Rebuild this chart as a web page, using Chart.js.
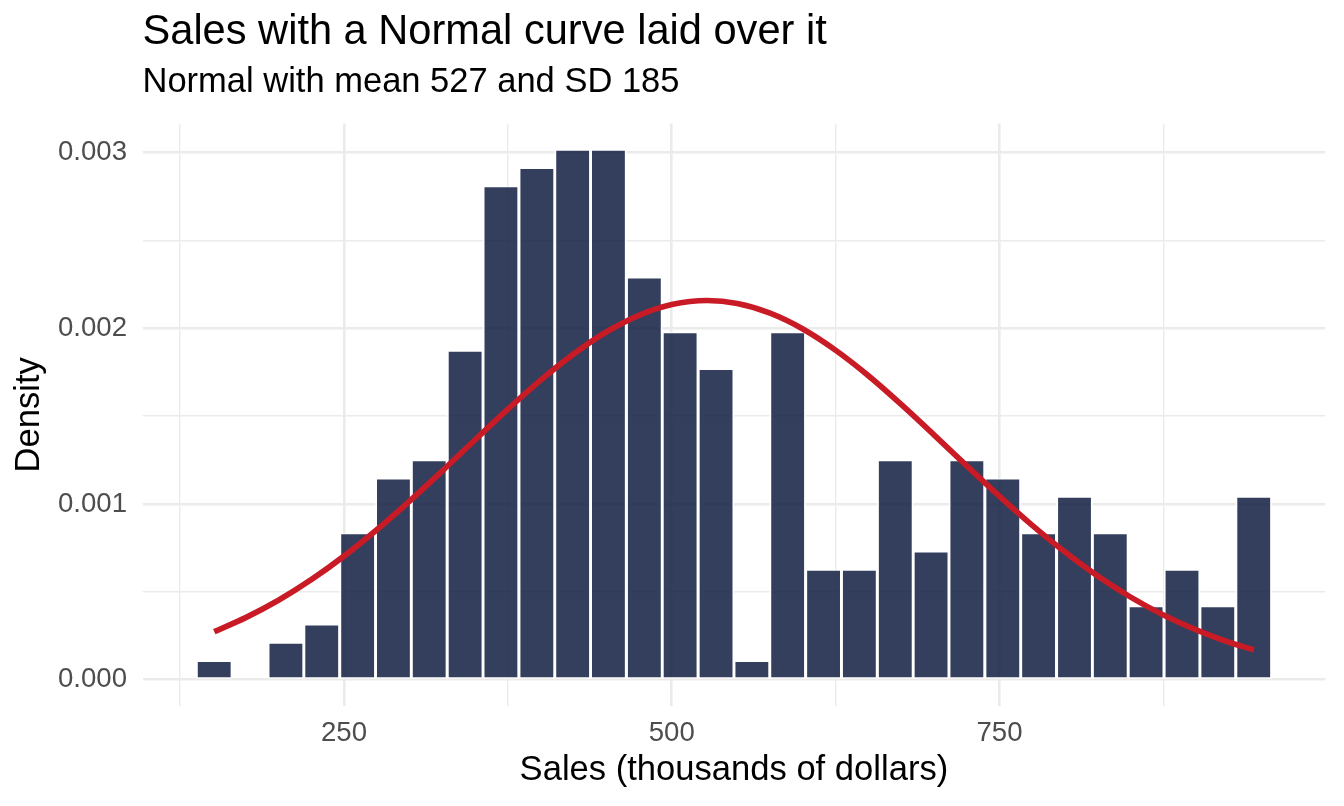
<!DOCTYPE html>
<html>
<head>
<meta charset="utf-8">
<script src="https://cdn.jsdelivr.net/npm/chart.js@4.4.1/dist/chart.umd.min.js"></script>
<style>
  html, body { margin: 0; padding: 0; background: #ffffff; }
  #wrap { width: 1344px; height: 806px; position: relative; }
</style>
</head>
<body>
<div id="wrap"><canvas id="c"></canvas></div>
<script>
// ---- Data ----
const titleText = 'Sales with a Normal curve laid over it';
const subtitleText = 'Normal with mean 527 and SD 185';
const xAxisTitle = 'Sales (thousands of dollars)';
const yAxisTitle = 'Density';

// histogram bin centres (thousands of dollars) and densities
const binCenters = [151.0, 178.3, 205.7, 233.0, 260.4, 287.7, 315.0, 342.4, 369.7, 397.1,
                    424.4, 451.7, 479.1, 506.4, 533.8, 561.1, 588.4, 615.8, 643.1, 670.5,
                    697.8, 725.1, 752.5, 779.8, 807.2, 834.5, 861.8, 889.2, 916.5, 943.9];
const binDensity = [0.000104, 0, 0.000208, 0.000312, 0.000831, 0.001143, 0.001247, 0.001870, 0.002805, 0.002909,
                    0.003013, 0.003013, 0.002286, 0.001974, 0.001766, 0.000104, 0.001974, 0.000623, 0.000623, 0.001247,
                    0.000727, 0.001247, 0.001143, 0.000831, 0.001039, 0.000831, 0.000416, 0.000623, 0.000416, 0.001039];

// normal curve points
const curveX = [151, 175, 200, 225, 250, 275, 300, 325, 350, 375, 400, 425, 450, 475, 500, 527,
                550, 575, 600, 625, 650, 675, 700, 725, 750, 775, 800, 825, 850, 875, 900, 925, 944];
const curveY = [0.000273, 0.000353, 0.000452, 0.000569, 0.000703, 0.000853, 0.001016, 0.001188,
                0.001365, 0.001539, 0.001704, 0.001852, 0.001978, 0.002073, 0.002134, 0.002157,
                0.002140, 0.002085, 0.001995, 0.001874, 0.001729, 0.001566, 0.001393, 0.001216,
                0.001043, 0.000878, 0.000726, 0.000589, 0.000470, 0.000368, 0.000283, 0.000213, 0.000170];

// axis ticks
const xGridTicks = [125, 250, 375, 500, 625, 750, 875];
const xLabelTicks = [250, 500, 750];
const yGridTicks = [0, 0.0005, 0.001, 0.0015, 0.002, 0.0025, 0.003];
const yLabelTicks = [0, 0.001, 0.002, 0.003];

// ---- Chart ----
const FONT = "'Liberation Sans', Arial, Helvetica, sans-serif";
const GRID = '#EBEBEB';
const near = (v, list) => list.some(t => Math.abs(t - v) < 1e-9);

const barData = binCenters.map((x, i) => ({ x: x, y: binDensity[i] }));
const lineData = curveX.map((x, i) => ({ x: x, y: curveY[i] }));

new Chart(document.getElementById('c'), {
  data: {
    datasets: [
      {
        type: 'line',
        label: 'Normal curve',
        data: lineData,
        borderColor: '#C81B25',
        borderWidth: 5.7,
        pointRadius: 0,
        fill: false,
        cubicInterpolationMode: 'monotone',
        order: 0
      },
      {
        type: 'bar',
        label: 'Sales',
        data: barData,
        backgroundColor: 'rgba(15,29,63,0.85)',
        borderColor: '#ffffff',
        borderWidth: { top: 1, left: 1.8, right: 1.8, bottom: 1.6 },
        borderSkipped: false,
        barPercentage: 1,
        categoryPercentage: 1,
        order: 1
      }
    ]
  },
  options: {
    responsive: true,
    maintainAspectRatio: false,
    animation: false,
    events: [],
    layout: { padding: { left: 0, right: 18.7, top: 0, bottom: 0 } },
    plugins: {
      legend: { display: false },
      tooltip: { enabled: false },
      title: {
        display: true,
        text: titleText,
        align: 'start',
        fullSize: false,
        color: '#000000',
        font: { family: FONT, size: 41.6, weight: 'normal', lineHeight: 1.2 },
        padding: { top: 7.4, bottom: 4.2 }
      },
      subtitle: {
        display: true,
        text: subtitleText,
        align: 'start',
        fullSize: false,
        color: '#000000',
        font: { family: FONT, size: 34.5, weight: 'normal', lineHeight: 1.2 },
        padding: { top: 0, bottom: 20.6 }
      }
    },
    scales: {
      x: {
        type: 'linear',
        position: 'bottom',
        offset: false,
        min: 96.3,
        max: 998.5,
        afterBuildTicks: (s) => { s.ticks = xGridTicks.map(v => ({ value: v })); },
        afterFit: (s) => { s.height = 99.8; },
        border: { display: false },
        grid: {
          offset: false,
          color: GRID,
          drawTicks: false,
          lineWidth: (ctx) => (ctx.tick && near(ctx.tick.value, xLabelTicks)) ? 2.6 : 1.4
        },
        ticks: {
          autoSkip: false,
          maxRotation: 0,
          padding: 10.5,
          color: '#4D4D4D',
          font: { family: FONT, size: 27.6, lineHeight: 1.2 },
          callback: (v) => near(v, xLabelTicks) ? String(v) : ''
        },
        title: {
          display: true,
          text: xAxisTitle,
          color: '#000000',
          font: { family: FONT, size: 34.6, lineHeight: 1.2 },
          padding: { top: 0, bottom: 14.5 }
        }
      },
      y: {
        type: 'linear',
        position: 'left',
        min: -0.0001507,
        max: 0.0031637,
        afterBuildTicks: (s) => { s.ticks = yGridTicks.map(v => ({ value: v })); },
        afterFit: (s) => { s.width = 142.5; },
        border: { display: false },
        grid: {
          color: GRID,
          drawTicks: false,
          lineWidth: (ctx) => (ctx.tick && near(ctx.tick.value, yLabelTicks)) ? 2.6 : 1.4
        },
        ticks: {
          autoSkip: false,
          padding: 15.5,
          color: '#4D4D4D',
          font: { family: FONT, size: 27.6, lineHeight: 1.2 },
          callback: (v) => near(v, yLabelTicks) ? v.toFixed(3) : ''
        },
        title: {
          display: true,
          text: yAxisTitle,
          color: '#000000',
          font: { family: FONT, size: 34.6, lineHeight: 1.2 },
          padding: { top: 9.2, bottom: 0 }
        }
      }
    }
  }
});
</script>
</body>
</html>
